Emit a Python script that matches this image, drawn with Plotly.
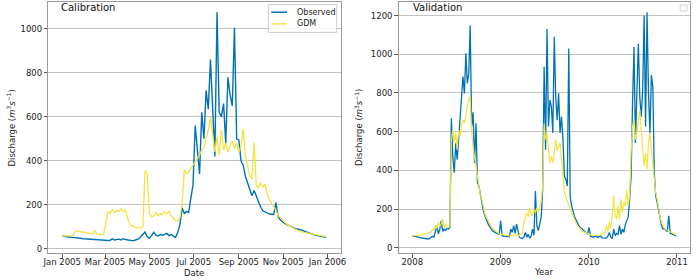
import pandas as pd
import plotly.graph_objects as go

# ---------------- data ----------------
# Calibration period (2005), one value every 3 days starting 2005-01-01
cal_observed = [
    58, 56, 54, 53, 52, 52, 50, 49, 48, 47, 46, 45, 44, 43, 42, 41, 40, 40, 39, 38,
    38, 38, 39, 45, 40, 41, 44, 40, 46, 42, 40, 38, 37, 38, 40, 45, 55, 65, 76, 55,
    48, 60, 75, 62, 58, 65, 62, 66, 70, 60, 65, 58, 52, 75, 110, 185, 160, 170, 165, 230,
    290, 560, 450, 340, 620, 500, 720, 635, 860, 640, 420, 1075, 620, 600, 660, 480, 780, 700, 650, 1005,
    500, 495, 400, 380, 330, 300, 271, 241, 265, 241, 210, 190, 173, 168, 165, 158, 157, 156, 210, 145,
    132, 122, 115, 110, 105, 100, 96, 92, 90, 88, 85, 80, 76, 72, 68, 65, 62, 60, 58, 56,
    54, 52,
]
cal_gdm = [
    58, 58, 58, 58, 60, 62, 80, 80, 78, 76, 75, 73, 72, 70, 68, 82, 68, 66, 64, 66,
    120, 170, 160, 180, 165, 175, 170, 182, 168, 175, 140, 112, 105, 100, 95, 98, 92, 100, 355, 340,
    160, 145, 150, 165, 150, 160, 155, 168, 158, 170, 150, 140, 128, 125, 140, 210, 360, 340, 350, 365,
    380, 400, 410, 425, 450, 460, 500, 540, 600, 530, 440, 510, 425, 540, 450, 480, 440, 470, 490, 455,
    480, 440, 468, 545, 420, 377, 332, 317, 483, 290, 275, 300, 280, 294, 250, 225, 205, 190, 175, 150,
    142, 130, 122, 112, 105, 98, 92, 88, 84, 80, 77, 74, 72, 70, 67, 65, 62, 60, 59, 58,
    57, 55,
]

# Validation period (2008-2010), one value every 6 days starting 2008-01-01
val_observed = [
    # 2008
    63, 60, 58, 56, 55, 53, 52, 50, 48, 47, 46, 46, 48, 52, 60, 55, 80, 115, 72, 95,
    140, 85, 97, 90, 100, 97, 105, 670, 473, 388, 540, 456, 560, 680, 764, 885, 798, 1005, 850, 900,
    1150, 627, 700, 439, 644, 337, 320, 270, 230, 195, 170, 145, 130, 115, 100, 92, 85, 80, 76, 72,
    70,
    # 2009
    140, 63, 60, 62, 58, 60, 58, 97, 80, 115, 75, 123, 90, 55, 50, 48, 55, 80, 55, 70,
    50, 60, 97, 65, 294, 115, 90, 130, 160, 300, 935, 507, 1130, 627, 764, 730, 593, 1090, 780, 660,
    798, 593, 678, 559, 370, 354, 320, 1030, 260, 217, 185, 160, 145, 125, 115, 105, 97, 90, 82, 78,
    72,
    # 2010
    106, 60, 58, 55, 60, 57, 55, 58, 60, 52, 50, 48, 50, 60, 80, 55, 48, 97, 63, 75,
    70, 115, 70, 97, 80, 120, 140, 160, 250, 371, 747, 1037, 542, 815, 1054, 780, 678, 815, 1200, 627,
    1217, 800, 593, 892, 832, 388, 268, 234, 190, 150, 115, 97, 100, 90, 85, 165, 75, 72, 68, 64,
    62,
]
val_gdm = [
    # 2008
    63, 63, 62, 63, 63, 65, 66, 68, 70, 72, 74, 76, 80, 85, 97, 90, 115, 100, 132, 110,
    123, 149, 105, 123, 115, 106, 110, 559, 610, 542, 593, 507, 610, 576, 627, 660, 644, 690, 713, 764,
    781, 600, 520, 470, 422, 354, 302, 270, 250, 205, 180, 160, 145, 128, 115, 105, 97, 89, 82, 78,
    72,
    # 2009
    70, 68, 66, 65, 63, 63, 62, 63, 63, 64, 65, 66, 67, 63, 70, 80, 132, 150, 183, 160,
    208, 175, 166, 200, 180, 208, 185, 217, 240, 320, 644, 560, 593, 507, 440, 473, 439, 490, 559, 500,
    524, 542, 456, 350, 290, 260, 240, 225, 205, 185, 160, 145, 128, 115, 105, 97, 90, 84, 80, 76,
    72,
    # 2010
    70, 68, 66, 65, 64, 63, 64, 66, 68, 70, 75, 80, 115, 85, 132, 100, 166, 268, 170, 149,
    217, 149, 251, 183, 234, 217, 302, 217, 268, 490, 627, 661, 559, 593, 644, 713, 610, 524, 422, 490,
    405, 542, 593, 507, 422, 354, 285, 251, 200, 160, 132, 115, 100, 95, 89, 85, 82, 80, 75, 70,
    67,
]

cal_dates = pd.date_range("2005-01-01", periods=len(cal_observed), freq="3D")
val_dates = pd.date_range("2008-01-01", periods=len(val_observed), freq="6D")

cal_tickvals = ["2005-01-01", "2005-03-01", "2005-05-01", "2005-07-01",
                "2005-09-01", "2005-11-01", "2006-01-01"]
cal_ticktext = ["Jan 2005", "Mar 2005", "May 2005", "Jul 2005",
                "Sep 2005", "Nov 2005", "Jan 2006"]
val_tickvals = ["2008-01-01", "2009-01-01", "2010-01-01", "2011-01-01"]
val_ticktext = ["2008", "2009", "2010", "2011"]

OBS_COLOR = "#0072B2"
GDM_COLOR = "#F0E442"

W, H = 697, 280
FONT = "DejaVu Sans"

fig = go.Figure()
fig.add_trace(go.Scatter(x=cal_dates, y=cal_observed, mode="lines", name="Observed",
                         line=dict(color=OBS_COLOR, width=1.4), xaxis="x", yaxis="y"))
fig.add_trace(go.Scatter(x=cal_dates, y=cal_gdm, mode="lines", name="GDM",
                         line=dict(color=GDM_COLOR, width=1.3), xaxis="x", yaxis="y"))
fig.add_trace(go.Scatter(x=val_dates, y=val_observed, mode="lines", name="Observed",
                         line=dict(color=OBS_COLOR, width=1.3), xaxis="x2", yaxis="y2"))
fig.add_trace(go.Scatter(x=val_dates, y=val_gdm, mode="lines", name="GDM",
                         line=dict(color=GDM_COLOR, width=1.2), xaxis="x2", yaxis="y2"))

def px_x(x):
    return x / W

def px_y(y):
    return 1 - y / H

axis_common = dict(showline=True, mirror=True, linecolor="#9a9a9a", linewidth=1,
                   ticks="outside", ticklen=3.5, tickcolor="#555555", tickwidth=1,
                   tickfont=dict(family=FONT, size=8.5, color="#222222"),
                   zeroline=False)

fig.update_layout(
    width=W, height=H,
    margin=dict(l=0, r=0, t=0, b=0),
    paper_bgcolor="white", plot_bgcolor="white",
    showlegend=False,
    font=dict(family=FONT, size=8.5, color="#222222"),
    xaxis=dict(domain=[px_x(43), px_x(340)], anchor="y",
               range=["2004-12-13", "2006-01-19"],
               tickvals=cal_tickvals, ticktext=cal_ticktext,
               ticklabelstandoff=-3,
               showgrid=False, **axis_common),
    yaxis=dict(domain=[px_y(254), px_y(2)], anchor="x",
               range=[-19.5, 1122],
               tickvals=[0, 200, 400, 600, 800, 1000],
               showgrid=True, gridcolor="#c2c2c2", gridwidth=1, **axis_common),
    xaxis2=dict(domain=[px_x(399), px_x(695)], anchor="y2",
                range=["2007-11-06", "2011-02-24"],
                tickvals=val_tickvals, ticktext=val_ticktext,
                ticklabelstandoff=-3,
                showgrid=False, **axis_common),
    yaxis2=dict(domain=[px_y(254), px_y(2)], anchor="x2",
                range=[-27, 1270],
                tickvals=[0, 200, 400, 600, 800, 1000, 1200],
                showgrid=True, gridcolor="#c2c2c2", gridwidth=1, **axis_common),
)

ytitle = "Discharge (<i>m</i><sup>3</sup><i>s</i><sup>\u22121</sup>)"
annotations = [
    dict(text="Calibration", x=px_x(54), y=px_y(7.5), xanchor="left", yanchor="middle",
         font=dict(family=FONT, size=10, color="#111111")),
    dict(text="Validation", x=px_x(412), y=px_y(7.5), xanchor="left", yanchor="middle",
         font=dict(family=FONT, size=10, color="#111111")),
    dict(text="Date", x=px_x(191.5), y=px_y(273.5), xanchor="center", yanchor="middle",
         font=dict(family=FONT, size=8.5, color="#222222")),
    dict(text="Year", x=px_x(547), y=px_y(273), xanchor="center", yanchor="middle",
         font=dict(family=FONT, size=8.5, color="#222222")),
    dict(text=ytitle, x=px_x(5), y=px_y(128), xanchor="center", yanchor="middle",
         textangle=-90, font=dict(family=FONT, size=8.5, color="#222222")),
    dict(text=ytitle, x=px_x(358), y=px_y(128), xanchor="center", yanchor="middle",
         textangle=-90, font=dict(family=FONT, size=8.5, color="#222222")),
    dict(text="Observed", x=px_x(293.5), y=px_y(12.3), xanchor="left", yanchor="middle",
         font=dict(family=FONT, size=8, color="#222222")),
    dict(text="GDM", x=px_x(293.5), y=px_y(24), xanchor="left", yanchor="middle",
         font=dict(family=FONT, size=8, color="#222222")),
]
for a in annotations:
    a.update(xref="paper", yref="paper", showarrow=False)
fig.update_layout(annotations=annotations)

shapes = [
    # legend box (calibration)
    dict(type="rect", x0=px_x(266.5), x1=px_x(336), y0=px_y(32.5), y1=px_y(4.5),
         line=dict(color="#cccccc", width=1), fillcolor="rgba(255,255,255,0.85)", layer="above"),
    dict(type="line", x0=px_x(269.5), x1=px_x(285.5), y0=px_y(12.3), y1=px_y(12.3),
         line=dict(color=OBS_COLOR, width=1.5), layer="above"),
    dict(type="line", x0=px_x(269.5), x1=px_x(285.5), y0=px_y(24), y1=px_y(24),
         line=dict(color=GDM_COLOR, width=1.5), layer="above"),
    # empty legend box (validation)
    dict(type="rect", x0=px_x(685), x1=px_x(692), y0=px_y(11), y1=px_y(5),
         line=dict(color="#d0d0d0", width=1), fillcolor="white", layer="above"),
]
for s in shapes:
    s.update(xref="paper", yref="paper")
fig.update_layout(shapes=shapes)

fig.write_html("out.html", config={"displayModeBar": False},
               post_script="document.body.style.margin='0';document.body.style.overflow='hidden';")
